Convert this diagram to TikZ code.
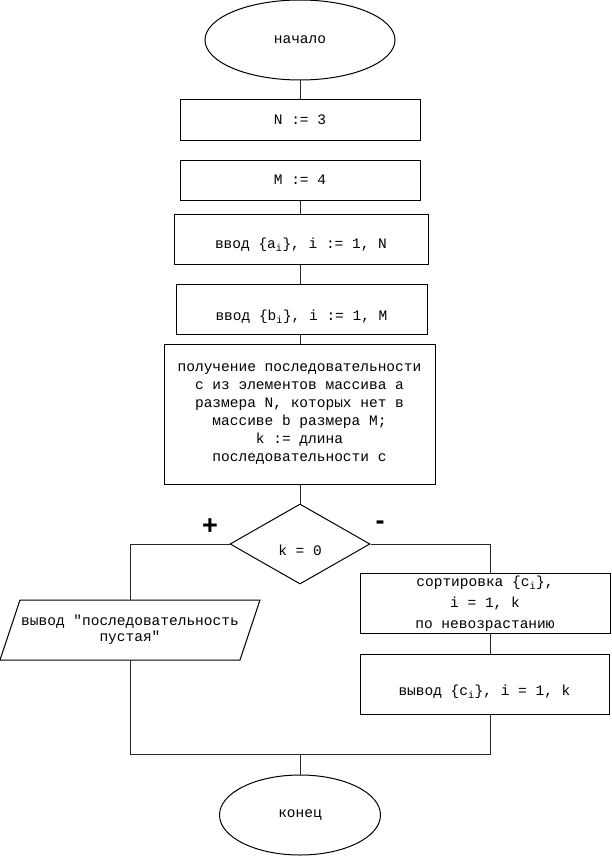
\documentclass[tikz,border=0pt]{standalone}
\usepackage{fontspec}
\setmainfont{Liberation Mono}[Ligatures=TeXOff]
\newfontfamily\signfont{Liberation Sans}
\usetikzlibrary{shapes.geometric}
\begin{document}
\begin{tikzpicture}[x=1pt,y=-1pt,
  every node/.style={font=\fontsize{14.5}{18}\selectfont},
  box/.style={draw, rectangle, line width=1pt, inner sep=0pt},
  term/.style={draw, ellipse, line width=1pt, inner sep=0pt},
  decision/.style={draw, diamond, line width=1pt, inner sep=0pt},
  lbl/.style={inner sep=0pt, align=center},
  sign/.style={inner sep=0pt, font=\signfont\bfseries\fontsize{27}{27}\selectfont},
  link/.style={line width=1pt, draw=black!85}]
\useasboundingbox (0,0) rectangle (611,856);

% terminals and process blocks
\node[term, minimum width=190pt, minimum height=80pt] (start) at (300,40) {начало};
\node[box, minimum width=240pt, minimum height=40pt] (n3) at (300,120) {N := 3};
\node[box, minimum width=240pt, minimum height=40pt] (m4) at (300,180) {M := 4};

\node[box, minimum width=254pt, minimum height=50pt] (ina) at (301,239) {};
\node[lbl] (inaT) at (301,245) {ввод \{a\textsubscript{i}\}, i := 1, N};

\node[box, minimum width=251pt, minimum height=50pt] (inb) at (301.5,309) {};
\node[lbl] (inbT) at (301.5,317) {ввод \{b\textsubscript{i}\}, i := 1, M};

\node[box, minimum width=271pt, minimum height=140pt, align=center] (proc) at (299.5,414)
  {получение последовательности\\c из элементов массива a\\размера N, которых нет в\\массиве b размера M;\\k := длина\\последовательности c};

% decision
\node[decision, minimum width=140pt, minimum height=80pt] (cond) at (300,544) {};
\node[lbl] (condT) at (300,550) {k = 0};
\node[sign] (plus) at (210,527) {+};
\node[sign] (minus) at (380,525) {-};

% "yes" branch: output parallelogram
\draw[line width=1pt] (20,600) -- (260,600) -- (240,660) -- (0,660) -- cycle;
\coordinate (partop) at (130,600);
\coordinate (parbot) at (130,660);
\node[lbl] (parT) at (130,630) {вывод "последовательность\\[-2pt]пустая"};

% "no" branch: sorting and output
\node[box, minimum width=250pt, minimum height=60pt] (sort) at (485,603) {};
\node[lbl] (sortT) at (485,604) {сортировка \{c\textsubscript{i}\},\\[3pt]i = 1, k\\[3pt]по невозрастанию};
\coordinate (sorttop) at (490,573);
\coordinate (sortbot) at (490,633);

\node[box, minimum width=249pt, minimum height=60pt] (outc) at (484.5,684) {};
\node[lbl] (outcT) at (484.5,692) {вывод \{c\textsubscript{i}\}, i = 1, k};
\coordinate (outtop) at (490,654);
\coordinate (outbot) at (490,714);

% end
\node[term, minimum width=161pt, minimum height=80pt] (stop) at (300,815) {конец};

% junction points
\coordinate (jl) at (130,754);
\coordinate (jr) at (490,754);
\coordinate (jm) at (300,754);

% connectors
\draw[link] (start.south) -- (n3.north);
\draw[link] (m4.south) -- (m4.south |- ina.north);
\draw[link] (ina.south -| 300,0) -- (inb.north -| 300,0);
\draw[link] (inb.south -| 300,0) -- (proc.north -| 300,0);
\draw[link] (proc.south -| 300,0) -- (cond.north);
\draw[link] (cond.west) -| (partop);
\draw[link] (cond.east) -| (sorttop);
\draw[link] (sortbot) -- (outtop);
\draw[link] (outbot) -- (jr) -- (jl) -- (parbot);
\draw[link] (jm) -- (stop.north);
\end{tikzpicture}
\end{document}
